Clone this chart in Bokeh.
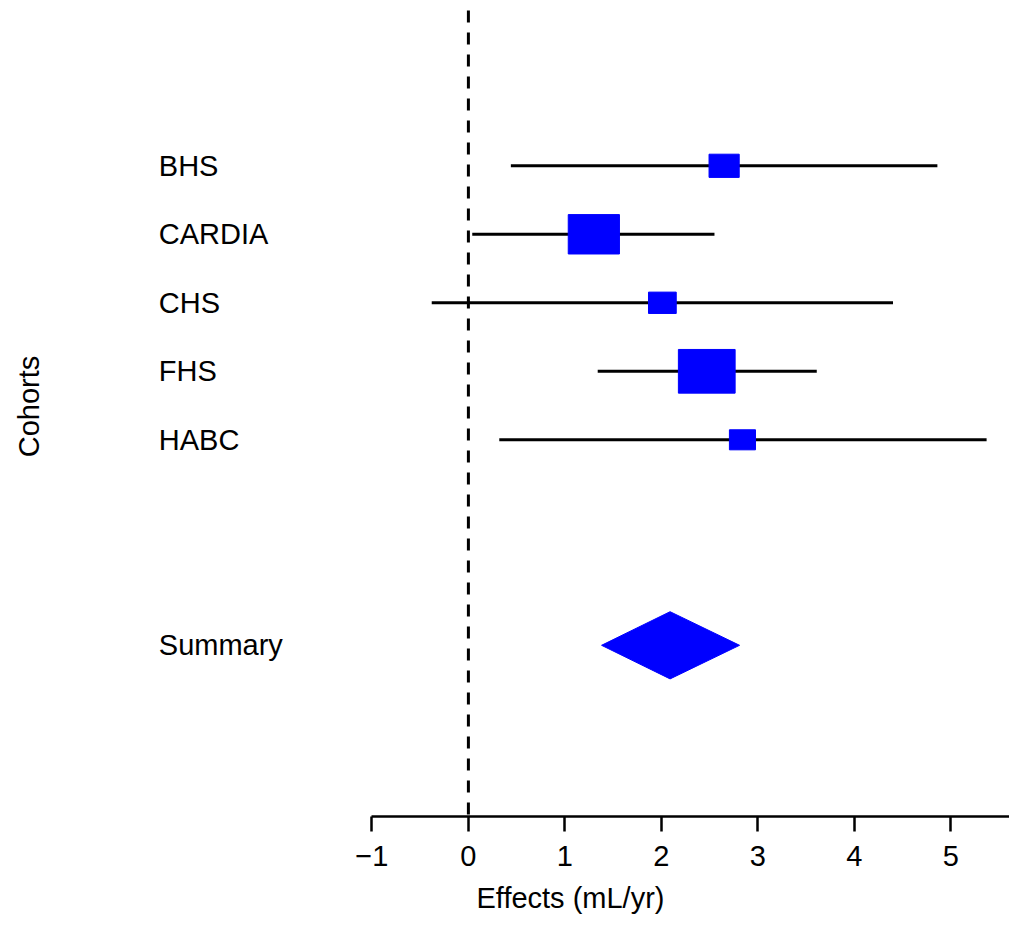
import numpy as np
from bokeh.plotting import figure
from bokeh.models import Range1d, FixedTicker, ColumnDataSource, Title
from bokeh.embed import file_html
from bokeh.resources import INLINE
from bokeh.core.properties import value

# ---- data ----
cohorts = ["BHS", "CARDIA", "CHS", "FHS", "HABC"]
effects = [2.65, 1.30, 2.01, 2.47, 2.84]
ci_low = [0.44, 0.04, -0.38, 1.34, 0.32]
ci_high = [4.86, 2.55, 4.40, 3.61, 5.37]
weights = [11.1, 32.0, 9.4, 39.3, 8.3]          # relative weights (%), set box size
summary_label = "Summary"
summary_effect = 2.09
summary_low = 1.38
summary_high = 2.81
tick_values = [-1, 0, 1, 2, 3, 4, 5]
tick_labels = ["\u22121", "0", "1", "2", "3", "4", "5"]
x_title = "Effects (mL/yr)"
y_title = "Cohorts"

# ---- layout constants ----
W, H = 1009, 927
BOTTOM = 111
PX_PER_X = 96.5
X0_PX = 467.9
PX_PER_ROW = 68.5
FONT = "Liberation Sans"
FS = "29px"

x_start = -X0_PX / PX_PER_X
x_end = (W - X0_PX) / PX_PER_X
n = len(cohorts)
rows = [n + 3 - i for i in range(n)]       # 8..4
summary_row = 1
y_top = rows[0] + 165.3 / PX_PER_ROW
y_bottom = y_top - (H - BOTTOM) / PX_PER_ROW

p = figure(width=W, height=H, output_backend="svg", toolbar_location=None,
           x_range=Range1d(x_start, x_end), y_range=Range1d(y_bottom, y_top),
           y_axis_location=None, min_border_left=0, min_border_right=0,
           min_border_top=0, min_border_bottom=BOTTOM)
p.outline_line_color = None
p.xgrid.visible = False
p.ygrid.visible = False
p.background_fill_color = "white"
p.border_fill_color = "white"

# x axis
ax = p.xaxis[0]
ax.ticker = FixedTicker(ticks=tick_values)
ax.major_label_overrides = {v: l for v, l in zip(tick_values, tick_labels)}
ax.bounds = (tick_values[0], x_end)
ax.axis_line_width = 2.5
ax.axis_line_color = "black"
ax.major_tick_line_width = 2.5
ax.major_tick_line_color = "black"
ax.major_tick_out = 15
ax.major_tick_in = 0
ax.minor_tick_line_color = None
ax.major_label_standoff = 14
ax.major_label_text_font = FONT
ax.major_label_text_font_size = FS
ax.major_label_text_color = "black"

# x title as a title panel below the axis, left offset to match the reference
p.add_layout(Title(text=x_title, align="left", offset=476, standoff=22,
                   vertical_align="bottom",
                   text_font=FONT, text_font_size=FS, text_font_style="normal",
                   text_color="black"), "below")

# reference line at zero
dash_top = rows[0] + (165.3 - 10) / PX_PER_ROW
p.segment(x0=[0], y0=[dash_top], x1=[0], y1=[y_bottom], line_color="black",
          line_width=3, line_dash="12 10")

# confidence intervals
src = ColumnDataSource(dict(y=rows, lo=ci_low, hi=ci_high, est=effects,
                            name=cohorts, w=weights))
p.segment(x0="lo", y0="y", x1="hi", y1="y", source=src, line_color="black",
          line_width=3)

# boxes sized by weight
size_px = 7.94 * np.sqrt(np.array(weights))
aspect = 1.14
src.data["bw"] = list(size_px * aspect / PX_PER_X)
src.data["bh"] = list(size_px / aspect / PX_PER_ROW)
p.rect(x="est", y="y", width="bw", height="bh", source=src,
       fill_color="#0000FF", line_color="#0000FF", line_width=1)

# summary diamond
half_h = 33.6 / PX_PER_ROW
p.patch(x=[summary_low, summary_effect, summary_high, summary_effect],
        y=[summary_row, summary_row + half_h, summary_row, summary_row - half_h],
        fill_color="#0000FF", line_color="#0000FF", line_width=1)

# row labels
label_x = (158.3 - X0_PX) / PX_PER_X
p.text(x=[label_x] * (n + 1), y=rows + [summary_row], text=cohorts + [summary_label],
       text_align="left", text_baseline="middle", text_font=value(FONT),
       text_font_size=FS, text_color="black")

# y title
p.text(x=[(28 - X0_PX) / PX_PER_X], y=[rows[0] - (406 - 165.3) / PX_PER_ROW],
       text=[y_title], angle=np.pi / 2, text_align="center", text_baseline="middle",
       text_font=value(FONT), text_font_size=FS, text_color="black")

open("out.html", "w").write(file_html(p, INLINE))
